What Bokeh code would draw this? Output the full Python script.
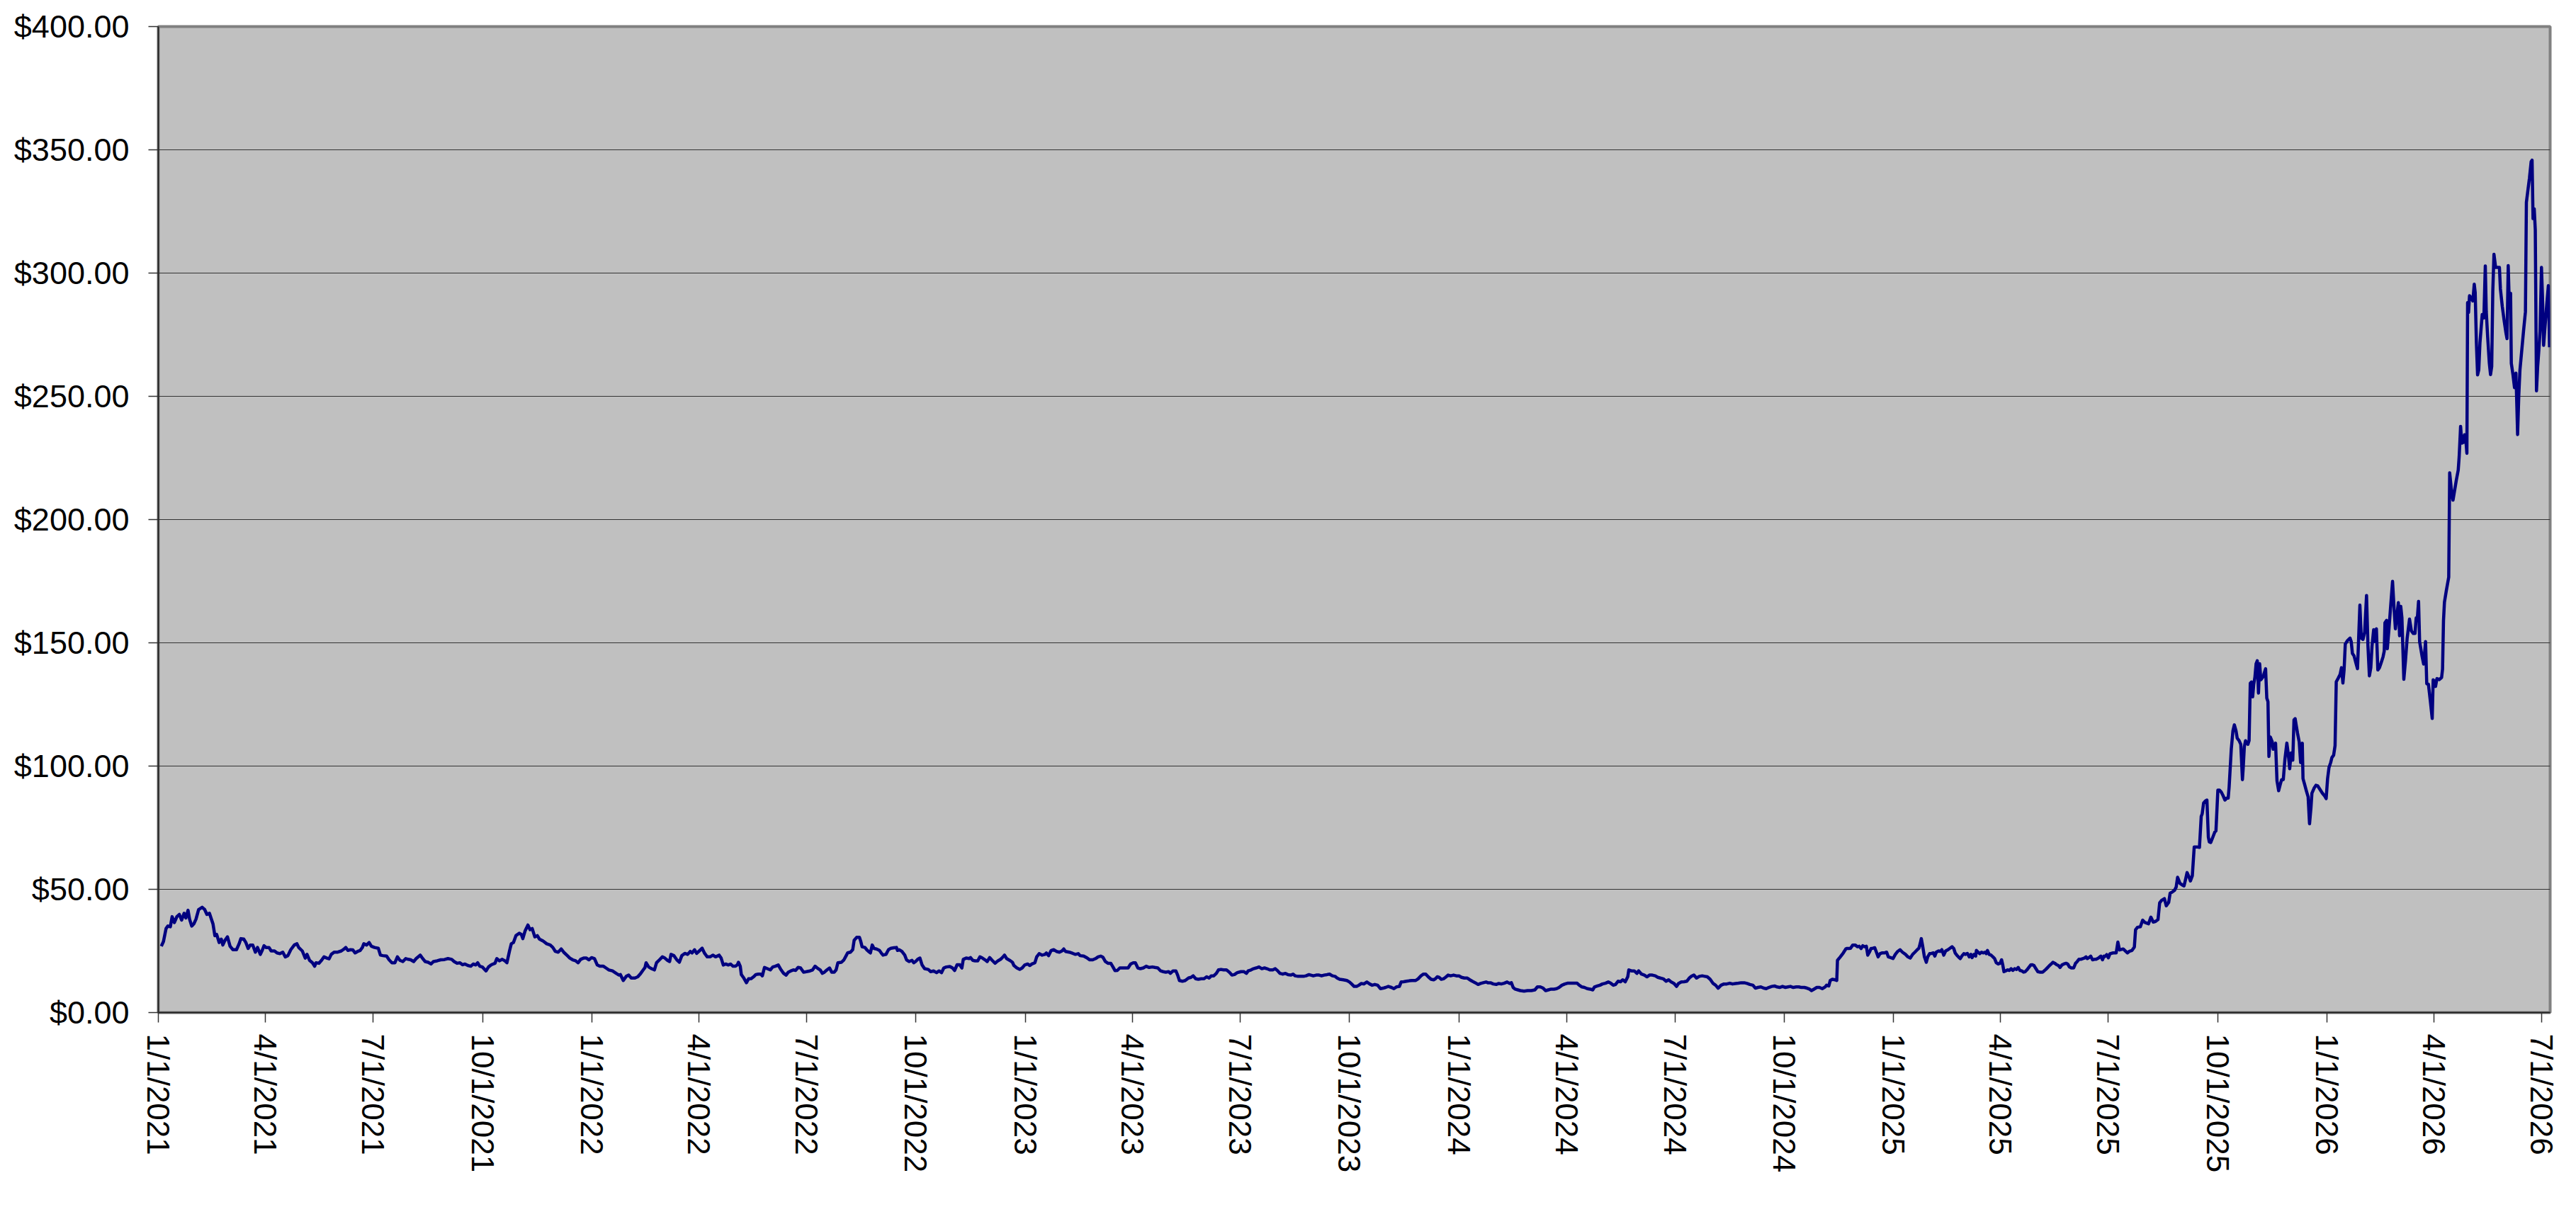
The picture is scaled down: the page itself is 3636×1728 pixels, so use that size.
import pandas as pd
from bokeh.plotting import figure
from bokeh.models import Range1d, FixedTicker, NumeralTickFormatter, ColumnDataSource
from bokeh.embed import file_html
from bokeh.resources import INLINE

BASE = pd.Timestamp("2021-01-01")

# Jan 2021 - Apr 2022 (days since 1/1/2021, closing price $)
days_a = [2.5,4.3,6.5,8.0,10.1,11.6,13.5,15.6,17.7,19.6,21.7,23.2,25.0,26.3,28.1,29.9,31.7,33.9,36.9,39.0,40.9,43.0,46.0,47.6,49.1,51.2,53.0,54.3,56.1,58.2,60.4,62.8,65.8,68.0,69.5,71.9,73.7,75.6,77.4,79.5,81.7,83.5,85.9,87.7,89.0,90.8,93.2,95.0,97.8,99.9,102.4,104.8,106.9,109.1,111.5,114.5,116.7,118.2,121.2,123.7,125.2,127.3,129.8,131.6,132.8,135.2,137.4,139.5,141.9,143.8,145.6,148.0,151.1,154.1,156.5,157.8,159.6,161.7,163.8,165.7,167.8,169.9,171.8,173.0,175.4,177.5,179.4,182.1,185.2,187.0,189.1,192.2,194.3,196.7,199.2,201.3,203.4,205.9,208.3,210.4,212.5,215.0,217.1,220.5,222.6,224.7,227.2,229.6,231.7,234.8,237.8,240.9,243.9,247.0,249.1,251.5,254.0,256.1,258.2,260.6,263.1,265.2,267.3,268.9,270.7,272.8,275.9,278.0,280.4,283.5,285.0,287.1,289.6,291.7,293.5,295.7,297.2,299.0,301.1,303.9,305.7,306.9,308.8,311.2,313.0,314.8,317.0,319.1,320.9,324.0,327.0,330.0,332.2,334.3,336.7,339.2,341.3,344.4,346.5,348.9,351.4,353.5,355.6,358.1,360.5,362.6,364.8,367.2,369.6,371.7,374.8,376.9,379.4,382.4,385.5,387.9,389.1,391.5,394.0,396.1,398.2,401.3,403.7,406.2,408.3,409.8,410.7,412.9,415.3,417.7,419.5,422.0,424.4,426.5,428.7,430.5,431.7,434.1,436.6,438.7,440.8,443.3,445.7,447.9,449.4,451.5,453.3,455.5,457.9,460.0,462.2,464.6,467.0,469.2,472.2]
price_a = [26.9,28.8,34.1,35.1,34.8,38.9,36.5,38.9,39.8,37.5,40.3,38.4,41.5,37.9,35.1,36.0,37.9,41.8,42.7,41.8,39.8,40.3,36.0,31.2,31.7,28.4,29.8,27.4,29.3,30.7,26.9,25.5,25.5,27.9,30.0,29.8,28.4,26.0,27.4,27.4,24.5,26.4,23.6,25.5,27.1,26.4,26.4,25.0,25.0,24.2,23.9,24.5,22.6,23.1,25.5,27.4,27.9,26.4,25.0,22.1,23.6,21.2,20.2,18.8,20.2,20.0,21.2,22.6,22.1,21.8,23.6,24.5,24.5,25.0,25.8,26.4,25.2,25.5,25.4,24.2,24.8,25.2,26.4,27.9,27.4,28.4,26.9,26.4,26.1,23.3,23.1,22.9,21.4,20.2,20.2,22.6,21.2,20.7,21.9,21.6,21.4,20.7,21.9,23.3,21.9,20.7,20.4,19.7,20.7,21.0,21.4,21.5,21.9,21.6,20.7,20.0,20.2,19.4,19.7,19.1,18.8,19.7,19.3,20.2,18.8,18.5,16.9,18.5,19.4,20.0,21.9,21.0,21.6,21.0,20.2,25.0,27.9,28.4,31.2,32.2,31.7,30.0,33.1,35.5,33.6,34.1,30.7,31.2,29.8,29.0,27.9,27.4,26.4,24.8,24.5,25.8,24.5,23.1,22.1,21.4,21.0,20.2,21.6,22.1,22.1,21.4,22.3,21.9,19.3,18.8,18.8,18.1,17.3,16.9,15.9,15.2,15.4,13.0,14.7,15.2,14.0,14.0,14.5,15.9,17.3,18.3,20.2,18.5,17.8,17.3,20.2,21.4,22.6,22.1,21.2,20.7,23.6,23.1,21.4,20.4,23.1,24.0,23.6,24.8,24.2,25.5,24.0,25.0,26.1,24.0,22.6,22.6,23.3,22.6,23.3]

# Apr 2022 - Aug 2023
days_b = [473.9,475.7,477.8,479.9,481.8,483.9,486.0,487.6,488.5,490.0,490.9,493.0,495.2,497.0,499.1,501.2,503.1,505.2,507.3,508.6,510.4,512.8,515.3,517.4,519.5,522.0,524.4,526.5,528.6,530.5,532.6,534.7,536.6,538.7,540.8,543.3,545.7,548.7,550.9,553.0,554.8,557.3,559.1,560.9,563.0,565.2,567.0,569.1,570.7,572.2,575.2,577.3,579.2,580.4,582.8,584.7,585.9,588.0,590.4,591.4,592.6,595.0,596.5,598.0,599.6,601.1,602.6,604.7,607.2,608.7,610.2,612.7,614.8,616.9,619.4,621.5,622.4,623.9,626.1,628.5,630.0,632.1,634.6,636.1,637.6,639.4,641.3,643.1,645.2,648.3,650.4,652.8,655.3,657.4,659.5,661.4,663.5,666.5,668.7,670.5,672.6,674.8,676.6,677.8,680.2,682.7,683.9,685.7,687.8,690.0,691.8,693.9,696.1,697.9,700.0,702.1,704.6,707.0,709.2,710.7,712.5,714.3,716.8,719.2,720.4,722.9,725.3,727.4,729.5,732.0,733.8,735.6,738.1,739.6,741.7,744.2,746.6,747.8,749.6,751.8,753.9,756.3,758.8,760.9,762.4,763.9,767.0,770.0,772.2,774.6,776.1,779.2,782.2,784.3,786.8,789.2,791.3,793.5,795.3,797.4,799.6,802.0,803.5,805.6,807.5,809.6,811.7,814.2,816.6,818.7,820.9,822.7,824.8,826.9,829.4,831.8,834.3,837.0,839.1,841.6,844.0,846.1,848.3,850.7,852.2,854.4,856.8,858.3,859.8,862.3,864.7,867.4,869.6,871.4,873.5,875.7,878.1,880.5,882.7,884.8,886.6,888.7,890.9,892.7,894.8,897.0,899.4,901.8,904.0,906.1,908.5,911.6,914.0,916.2,917.7,920.1,922.2,924.4,926.8,929.2,931.4,933.5,935.9,938.4,940.5,942.6,944.5,946.6]
price_b = [22.1,19.3,19.7,19.3,19.7,18.8,18.8,19.4,20.4,18.8,15.4,14.0,12.1,13.7,13.7,14.5,15.4,15.6,15.6,14.9,18.3,17.8,17.3,18.5,18.8,19.3,17.3,15.9,15.2,16.4,16.9,17.3,17.1,18.3,18.1,16.4,16.6,16.9,17.3,18.8,18.1,17.3,15.9,16.4,17.3,18.1,16.4,16.4,17.3,20.2,20.4,21.4,23.1,24.2,24.5,25.5,29.3,30.5,30.5,29.0,26.7,26.4,25.5,24.8,24.2,27.4,26.0,25.8,25.2,24.2,23.3,23.6,25.5,26.1,26.3,26.4,25.2,25.5,24.8,23.3,21.4,20.7,21.2,20.2,20.7,21.6,22.1,19.3,17.8,17.5,16.6,16.9,16.2,16.9,16.2,18.1,18.5,18.7,18.1,17.1,19.4,19.4,18.1,21.6,22.1,21.9,22.3,21.2,21.0,21.0,22.6,22.1,21.4,20.7,22.3,21.2,20.0,21.0,21.6,22.3,23.3,21.9,21.2,20.4,19.1,18.1,17.5,18.1,19.3,19.7,19.1,19.7,20.2,22.6,23.9,23.3,23.6,24.2,23.1,25.2,25.5,24.8,24.5,25.0,25.8,24.8,24.5,24.0,23.6,23.9,23.1,22.9,22.1,21.4,21.4,21.9,22.6,22.9,22.5,20.7,20.0,20.0,18.8,17.0,17.1,18.1,18.1,18.1,18.1,19.7,20.2,20.2,18.1,17.8,18.1,18.8,18.3,18.5,18.3,18.1,16.9,16.6,16.4,16.6,15.9,16.9,16.9,15.2,13.0,12.7,13.0,14.0,14.3,14.9,13.7,13.5,13.7,13.7,14.5,14.0,14.9,14.9,15.9,17.3,17.5,17.3,17.3,16.4,15.2,15.4,16.2,16.6,16.6,15.9,16.9,17.3,17.8,18.1,18.5,17.8,18.1,17.8,17.3,17.3,17.8,16.9,15.9,15.6]

# Aug 2023 - Nov 2024
days_c = [949.1,951.2,953.6,955.5,957.3,959.7,962.2,964.3,966.4,968.9,970.4,972.5,975.0,977.4,979.5,981.6,984.1,986.2,988.6,990.8,992.6,994.7,997.8,1000.8,1003.0,1004.8,1006.9,1009.0,1010.9,1013.0,1015.1,1017.6,1020.0,1022.1,1024.3,1026.7,1029.1,1031.3,1033.4,1035.7,1038.3,1040.4,1042.5,1045.0,1046.5,1048.6,1051.0,1053.5,1055.6,1058.7,1060.8,1063.2,1065.3,1067.2,1069.3,1071.7,1073.9,1075.4,1076.9,1078.4,1080.3,1082.1,1083.9,1086.0,1088.2,1090.6,1093.0,1095.2,1097.3,1099.7,1102.2,1104.3,1106.4,1108.9,1111.3,1113.4,1115.6,1118.0,1119.5,1121.7,1124.1,1126.5,1128.7,1130.8,1133.2,1135.7,1137.8,1139.3,1140.8,1142.4,1144.8,1146.9,1150.0,1153.0,1156.1,1159.1,1161.2,1163.7,1166.1,1168.2,1170.4,1172.8,1175.2,1177.4,1179.5,1181.9,1184.4,1186.5,1189.5,1192.6,1194.7,1196.5,1198.7,1200.8,1203.2,1205.7,1207.8,1209.3,1211.8,1213.9,1216.0,1218.5,1220.9,1223.0,1225.2,1227.0,1229.1,1231.2,1233.1,1235.2,1237.3,1238.2,1240.4,1242.8,1245.0,1246.5,1248.9,1251.3,1253.5,1255.6,1258.0,1260.5,1262.6,1264.7,1267.2,1269.6,1271.7,1273.9,1276.3,1278.4,1280.0,1282.4,1284.8,1287.0,1289.1,1290.9,1293.0,1295.2,1297.6,1300.0,1302.2,1304.3,1306.7,1309.2,1311.3,1313.4,1315.9,1318.3,1320.7,1323.2,1325.6,1328.0,1330.5,1332.9,1335.4,1337.8,1340.2,1342.7,1344.8,1346.9,1349.4,1351.8,1353.9,1356.1,1358.5,1360.9,1363.0,1365.2,1367.6,1370.1,1372.2,1374.3,1376.7,1379.2,1381.3,1383.4,1385.9,1388.3,1390.4,1392.0,1394.1,1396.5,1398.7,1401.1,1403.5,1404.7,1406.6,1407.8,1409.6,1411.8,1413.3,1413.9,1416.3,1418.8,1420.9]
price_c = [15.9,15.4,15.2,15.6,14.9,14.7,14.7,14.7,14.9,15.4,15.2,14.9,15.2,15.2,14.9,15.2,15.4,15.6,14.9,14.7,14.0,13.5,13.3,13.0,12.4,11.6,10.6,10.6,11.1,11.8,11.6,12.4,11.6,11.1,11.4,11.1,9.7,9.9,10.2,10.6,10.2,9.7,10.4,10.6,12.4,12.5,12.7,12.9,13.0,13.0,13.7,14.9,15.6,15.6,14.5,13.5,13.3,13.7,14.5,14.3,13.5,13.7,14.3,15.2,14.9,15.2,14.9,14.9,14.3,14.0,14.0,13.3,12.7,12.1,11.4,11.8,12.1,12.4,12.1,12.1,11.6,11.4,11.8,11.6,11.9,12.4,11.8,12.1,10.2,9.5,9.2,8.9,8.7,8.9,8.9,9.2,10.4,10.4,9.9,8.9,9.2,9.5,9.5,9.7,10.2,11.1,11.6,11.9,11.9,11.9,11.9,11.1,10.4,10.2,9.7,9.5,9.2,10.4,10.8,11.1,11.6,11.9,12.4,11.9,11.1,11.4,12.7,12.5,13.3,12.5,14.5,17.3,16.9,16.9,15.9,16.9,15.6,15.2,14.5,15.2,15.2,14.9,14.3,14.0,13.7,12.7,13.3,12.4,11.8,10.6,11.8,12.4,12.5,12.7,14.0,14.7,15.2,14.0,14.7,14.9,14.7,14.5,13.5,11.8,11.1,9.9,11.1,11.6,11.6,11.9,11.6,11.8,11.9,12.1,12.1,11.8,11.4,11.1,9.9,10.2,10.4,9.9,9.7,10.2,10.6,10.8,10.4,10.2,10.6,10.2,10.4,10.6,10.2,10.4,10.4,10.2,10.2,9.9,9.5,8.9,9.5,10.2,10.2,9.7,10.4,11.1,10.8,13.0,13.5,13.3,13.0,21.2,22.6,24.2,25.8]

# Nov 2024 - Jun 2025
days_d = [1421.5,1423.5,1424.9,1426.8,1428.8,1430.8,1432.2,1433.8,1435.2,1436.8,1438.2,1439.4,1440.8,1442.2,1443.7,1445.3,1446.7,1448.1,1449.7,1451.3,1453.3,1455.3,1456.7,1458.7,1460.7,1462.6,1464.6,1466.6,1468.6,1471.2,1473.2,1475.2,1477.2,1479.1,1481.1,1482.5,1483.5,1484.5,1485.5,1487.1,1488.7,1489.9,1491.5,1493.1,1494.7,1495.9,1497.1,1499.0,1500.4,1501.8,1503.4,1505.0,1507.0,1508.4,1510.4,1511.8,1513.0,1514.4,1515.7,1517.3,1518.9,1520.3,1521.7,1523.3,1524.9,1526.3,1527.3,1528.9,1530.3,1530.9,1532.3,1533.7,1535.2,1536.8,1538.2,1539.2,1540.2,1541.6,1543.2,1544.8,1546.2,1547.6,1549.2,1550.8,1552.1,1553.1,1554.1,1555.5,1557.1,1558.7,1560.1,1561.5,1563.1,1564.7,1566.1,1567.5,1569.1,1570.6,1572.0,1573.4,1575.0,1576.6,1578.0,1579.4,1581.0,1582.6,1584.6,1586.6,1587.9,1589.3,1590.9,1592.5,1593.9,1595.3,1596.9,1598.5,1599.9,1601.3,1602.9,1604.5,1606.4,1607.8,1609.2,1610.8,1612.8,1614.4,1615.8,1617.2,1618.8,1620.4,1621.8,1623.2,1624.3,1625.7,1627.1,1628.7,1630.3,1631.7,1633.7,1635.7,1637.1,1638.3]
price_d = [26.0,26.0,26.1,27.4,27.4,26.7,26.9,26.0,27.1,26.7,26.9,23.3,24.5,26.0,26.1,26.3,24.5,22.6,23.9,24.2,24.2,24.5,22.6,22.3,21.9,23.6,24.8,25.5,24.5,23.6,22.6,22.1,23.6,24.5,25.5,26.1,27.9,30.0,27.4,22.6,20.4,22.6,23.9,24.0,24.2,22.9,24.5,25.0,24.8,25.5,23.3,25.0,25.5,26.0,26.7,26.0,24.2,23.3,22.6,21.9,23.1,23.9,23.6,24.0,22.6,23.6,22.3,23.6,22.9,25.2,24.5,23.9,24.5,24.2,24.5,23.9,25.2,23.6,23.3,22.6,21.9,20.2,19.7,20.0,21.4,19.3,16.6,16.9,17.3,17.1,17.8,17.1,17.8,17.5,18.3,17.1,16.9,16.4,16.6,17.3,18.3,19.3,19.4,19.1,17.8,16.6,16.4,16.4,16.9,17.5,18.3,19.1,19.7,20.4,20.0,19.4,19.1,18.3,19.3,19.7,20.0,19.7,18.5,18.1,18.1,20.0,20.7,21.6,21.6,21.9,22.1,22.6,21.9,22.3,22.9,21.4,21.6,21.6,22.1,22.9,21.4,22.9]

# Jun 2025 - Jan 2026
days_e = [1639.0,1640.6,1642.0,1643.4,1646.0,1648.6,1650.0,1651.4,1653.0,1654.5,1656.5,1658.1,1659.9,1661.9,1663.9,1664.9,1666.5,1668.9,1670.9,1672.9,1675.8,1677.8,1679.8,1681.8,1683.8,1685.2,1686.8,1689.2,1690.8,1692.8,1694.0,1695.8,1697.7,1699.1,1700.3,1702.3,1704.7,1705.7,1706.7,1708.3,1709.7,1711.1,1712.7,1714.3,1716.3,1718.7,1720.2,1721.0,1722.2,1723.6,1725.0,1726.2,1727.0,1728.2,1729.6,1731.6,1732.6,1734.2,1735.6,1737.0,1738.6,1740.2,1741.6,1742.9,1743.7,1745.5,1746.9,1748.1,1749.5,1750.5,1752.1,1753.5,1754.9,1755.5,1756.5,1757.5,1759.5,1760.5,1761.5,1762.5,1763.5,1764.4,1765.4,1766.4,1767.4,1768.4,1769.4,1770.4,1772.0,1772.8,1774.4,1775.4,1776.4,1777.2,1778.4,1780.0,1780.8,1782.0,1782.8,1784.0,1785.4,1786.7,1787.9,1789.3,1790.7,1792.3,1793.5,1794.7,1795.9,1797.3,1798.3,1799.3,1800.3,1801.3,1802.7,1803.9,1805.3,1805.9,1807.3,1808.7,1810.2,1811.4,1812.6,1813.4,1815.2,1816.8,1818.2,1820.2,1822.2,1824.2,1825.4,1826.6,1827.8,1829.2,1830.2,1831.7]
price_e = [22.7,23.5,22.2,23.9,24.2,24.2,28.6,25.4,25.6,25.8,24.9,24.2,24.9,25.2,26.6,33.6,34.6,34.8,37.5,36.5,36.0,38.7,36.7,37.0,37.7,44.5,45.5,46.2,43.3,44.7,48.4,48.9,49.6,50.9,54.9,52.4,51.6,51.4,53.4,56.8,55.3,53.4,55.5,67.2,67.2,67.0,79.6,80.6,85.0,85.8,86.2,71.2,69.2,69.0,70.7,73.2,73.7,90.2,90.2,89.5,88.0,86.2,87.0,87.0,91.5,106.8,114.3,116.7,114.3,111.3,110.3,108.8,94.5,98.9,107.8,110.3,108.8,110.3,133.6,134.1,128.1,133.1,136.0,141.5,142.7,129.6,141.5,135.0,136.0,137.0,139.5,127.6,126.1,103.9,111.8,109.8,106.8,107.3,109.3,94.0,90.0,92.5,94.5,94.5,102.9,109.3,104.9,98.9,105.3,102.4,118.7,119.2,116.2,113.3,109.8,101.4,109.3,94.9,92.5,90.0,87.5,76.6,83.1,89.0,91.0,92.2,92.0,90.5,89.0,87.8,86.8,94.9,99.4,101.4,103.4,104.4]

# Jan 2026 - Apr 2026
days_f = [1832.9,1833.9,1835.5,1837.1,1838.3,1839.5,1840.5,1841.5,1843.5,1845.5,1846.5,1847.5,1848.9,1850.4,1851.8,1852.8,1853.8,1855.0,1856.4,1857.8,1859.4,1860.6,1861.8,1863.0,1864.0,1865.4,1866.4,1867.7,1868.9,1870.3,1871.7,1873.3,1874.3,1874.9,1876.3,1876.9,1878.3,1879.7,1881.3,1882.7,1883.7,1884.9,1886.2,1887.2,1888.2,1889.2,1890.8,1892.2,1893.6,1895.6,1897.2,1898.8,1900.2,1901.2,1902.2,1903.2,1904.1,1906.1,1907.5,1909.1,1910.1,1911.5,1913.1,1914.7]
price_f = [108.3,134.2,135.6,137.1,139.9,133.7,139.0,149.5,151.0,151.9,150.5,145.7,144.7,141.9,139.5,152.4,165.3,151.9,151.4,154.3,169.2,148.6,136.6,139.9,148.6,155.3,150.5,155.7,139.0,139.9,141.9,144.3,146.6,158.1,159.1,147.6,155.7,164.8,174.9,162.9,155.7,161.0,166.3,152.9,164.8,160.1,135.2,142.8,151.9,159.6,154.8,153.8,153.8,160.1,160.1,166.8,150.5,144.7,141.4,150.5,133.4,133.2,126.5,119.3]

# Apr 2026 - May 2026
days_g = [1915.5,1916.7,1917.5,1918.7,1920.7,1922.6,1923.4,1924.2,1925.0,1926.6,1928.6,1929.4,1931.0,1932.2,1933.4,1935.0,1936.6,1937.4,1938.6,1939.6,1940.9,1941.9,1942.9,1943.9,1944.5,1945.3,1946.1,1947.3,1948.9,1950.1,1950.9,1951.9,1952.9,1953.9,1954.9]
price_g = [135.0,134.4,132.3,135.5,135.1,135.9,139.3,159.0,166.5,171.2,176.6,219.0,211.3,207.9,211.3,216.0,220.1,225.5,237.8,231.0,231.3,234.4,233.0,226.9,288.0,284.0,290.8,290.1,288.7,295.5,292.1,271.7,258.7,260.7,271.7]

# May 2026 - Jul 2026
days_h = [1956.8,1958.2,1959.4,1960.2,1961.4,1962.8,1963.8,1964.8,1965.7,1966.7,1968.1,1969.7,1971.3,1972.1,1973.7,1975.3,1976.7,1977.7,1978.7,1979.7,1980.7,1981.3,1982.7,1984.0,1985.2,1986.0,1986.6,1987.6,1988.6,1990.0,1991.6,1993.2,1994.0,1995.2,1996.6,1998.0,1998.8,1999.6,2000.6,2001.5,2002.5,2003.5,2004.5,2005.5,2006.7,2007.5,2008.5,2009.4,2011.1,2012.5,2013.5]
price_h = [283.2,281.8,302.9,284.5,274.0,263.4,258.8,262.1,292.4,307.6,302.3,302.3,302.3,293.7,286.5,280.6,276.0,273.4,303.0,285.9,291.8,263.4,258.8,253.5,259.4,245.6,234.5,250.3,260.8,268.1,276.5,284.3,328.7,333.3,338.6,345.2,345.8,322.1,326.1,317.5,252.2,262.1,268.7,276.5,302.3,291.1,270.7,276.5,287.0,294.9,269.9]

y_ticks = [0, 50, 100, 150, 200, 250, 300, 350, 400]
tick_dates = ["2021-01-01", "2021-04-01", "2021-07-01", "2021-10-01",
              "2022-01-01", "2022-04-01", "2022-07-01", "2022-10-01",
              "2023-01-01", "2023-04-01", "2023-07-01", "2023-10-01",
              "2024-01-01", "2024-04-01", "2024-07-01", "2024-10-01",
              "2025-01-01", "2025-04-01", "2025-07-01", "2025-10-01",
              "2026-01-01", "2026-04-01", "2026-07-01"]
tick_labels = ["1/1/2021", "4/1/2021", "7/1/2021", "10/1/2021",
               "1/1/2022", "4/1/2022", "7/1/2022", "10/1/2022",
               "1/1/2023", "4/1/2023", "7/1/2023", "10/1/2023",
               "1/1/2024", "4/1/2024", "7/1/2024", "10/1/2024",
               "1/1/2025", "4/1/2025", "7/1/2025", "10/1/2025",
               "1/1/2026", "4/1/2026", "7/1/2026"]

segments = [(days_a, price_a), (days_b, price_b), (days_c, price_c), (days_d, price_d),
            (days_e, price_e), (days_f, price_f), (days_g, price_g), (days_h, price_h)]
days, price = [], []
for i, (d, v) in enumerate(segments):
    if len(d) != len(v):
        raise ValueError(f"segment {i}: {len(d)} days vs {len(v)} prices")
    days += d
    price += v

dates = [BASE + pd.Timedelta(days=d) for d in days]
src = ColumnDataSource(dict(date=dates, price=price))

FONT = "Liberation Sans"

p = figure(width=3620, height=1712, x_axis_type="datetime",
           output_backend="svg", toolbar_location=None,
           x_range=Range1d(BASE, BASE + pd.Timedelta(days=2014)),
           y_range=Range1d(0, 400),
           min_border_left=223, min_border_right=21,
           min_border_top=37, min_border_bottom=283)

p.background_fill_color = "#C0C0C0"
p.border_fill_color = "white"
p.outline_line_color = "#808080"
p.outline_line_width = 4

p.xgrid.visible = False
p.ygrid.grid_line_color = "#333333"
p.ygrid.grid_line_width = 1

p.yaxis.ticker = FixedTicker(ticks=y_ticks)
p.yaxis.formatter = NumeralTickFormatter(format="$0.00")
tick_ms = [float(pd.Timestamp(s).value // 10**6) for s in tick_dates]
p.xaxis.ticker = FixedTicker(ticks=tick_ms)
p.xaxis.major_label_overrides = dict(zip(tick_ms, tick_labels))
p.xaxis.major_label_orientation = "vertical"

for ax in (p.xaxis, p.yaxis):
    ax.axis_line_color = "#222222"
    ax.axis_line_width = 2
    ax.major_tick_line_color = "#333333"
    ax.major_tick_line_width = 1.5
    ax.major_tick_out = 14
    ax.major_tick_in = 0
    ax.minor_tick_out = 0
    ax.minor_tick_in = 0
    ax.major_label_text_font = FONT
    ax.major_label_text_color = "black"
p.yaxis.major_label_text_font_size = "45px"
p.xaxis.major_label_text_font_size = "44px"
p.yaxis.major_label_standoff = 27
p.xaxis.major_label_standoff = 16

p.line("date", "price", source=src, line_color="#000080", line_width=4.5,
       line_join="round")

open("out.html", "w").write(file_html(p, INLINE))
